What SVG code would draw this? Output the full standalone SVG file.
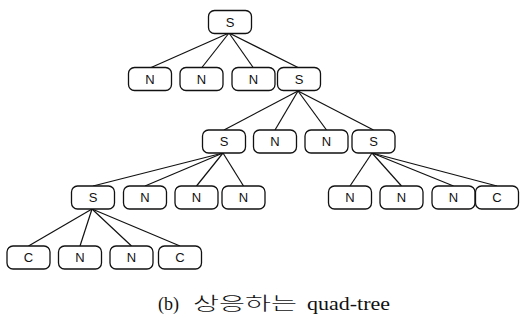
<svg xmlns="http://www.w3.org/2000/svg" width="520" height="329" viewBox="0 0 520 329">
  <style>
    .node text { font-family: "Liberation Sans", Arial, sans-serif; font-size: 13px; fill: #111; text-anchor: middle; dominant-baseline: central; }
    #edges line { stroke: #111; stroke-width: 1.2; }
    .caption { font-family: "Liberation Serif", "Noto Sans CJK KR", serif; font-size: 17px; fill: #111; }
  </style>
  <defs>
    <rect id="box" x="-21.5" y="-11.5" width="43" height="23" rx="6" ry="6" fill="#fff" stroke="#111" stroke-width="1.3"/>
  </defs>
  <rect width="520" height="329" fill="#fff"/>

  <!-- tree edges: parent bottom centre to child top centre -->
  <g id="edges">
    <line x1="229" y1="33" x2="150" y2="68"/>
    <line x1="229" y1="33" x2="201.5" y2="68"/>
    <line x1="229" y1="33" x2="253.5" y2="68"/>
    <line x1="229" y1="33" x2="299" y2="68"/>

    <line x1="298" y1="91" x2="224" y2="130"/>
    <line x1="298" y1="91" x2="275" y2="130"/>
    <line x1="298" y1="91" x2="326.5" y2="130"/>
    <line x1="298" y1="91" x2="373.5" y2="130"/>

    <line x1="223" y1="153" x2="93" y2="186"/>
    <line x1="223" y1="153" x2="145" y2="186"/>
    <line x1="223" y1="153" x2="196.5" y2="186"/>
    <line x1="223" y1="153" x2="243.5" y2="186"/>

    <line x1="372" y1="153" x2="350" y2="186"/>
    <line x1="372" y1="153" x2="401.5" y2="186"/>
    <line x1="372" y1="153" x2="453.5" y2="186"/>
    <line x1="372" y1="153" x2="497" y2="186"/>

    <line x1="92" y1="209" x2="28.5" y2="246"/>
    <line x1="92" y1="209" x2="80" y2="246"/>
    <line x1="92" y1="209" x2="131.5" y2="246"/>
    <line x1="92" y1="209" x2="180" y2="246"/>
  </g>

  <!-- root -->
  <g id="n0" class="node" transform="translate(230,22)"><use href="#box"/><text>S</text></g>

  <!-- level 1 -->
  <g id="n1" class="node" transform="translate(150,79)"><use href="#box"/><text>N</text></g>
  <g id="n2" class="node" transform="translate(201.5,79)"><use href="#box"/><text>N</text></g>
  <g id="n3" class="node" transform="translate(253.5,79)"><use href="#box"/><text>N</text></g>
  <g id="n4" class="node" transform="translate(299,79)"><use href="#box"/><text>S</text></g>

  <!-- level 2 -->
  <g id="n5" class="node" transform="translate(224,141.5)"><use href="#box"/><text>S</text></g>
  <g id="n6" class="node" transform="translate(275,141.5)"><use href="#box"/><text>N</text></g>
  <g id="n7" class="node" transform="translate(326.5,141.5)"><use href="#box"/><text>N</text></g>
  <g id="n8" class="node" transform="translate(373.5,141.5)"><use href="#box"/><text>S</text></g>

  <!-- level 3 -->
  <g id="n9" class="node" transform="translate(93,197.5)"><use href="#box"/><text>S</text></g>
  <g id="n10" class="node" transform="translate(145,197.5)"><use href="#box"/><text>N</text></g>
  <g id="n11" class="node" transform="translate(196.5,197.5)"><use href="#box"/><text>N</text></g>
  <g id="n12" class="node" transform="translate(243.5,197.5)"><use href="#box"/><text>N</text></g>
  <g id="n13" class="node" transform="translate(350,197.5)"><use href="#box"/><text>N</text></g>
  <g id="n14" class="node" transform="translate(401.5,197.5)"><use href="#box"/><text>N</text></g>
  <g id="n15" class="node" transform="translate(453.5,197.5)"><use href="#box"/><text>N</text></g>
  <g id="n16" class="node" transform="translate(497,197.5)"><use href="#box"/><text>C</text></g>

  <!-- level 4 -->
  <g id="n17" class="node" transform="translate(28.5,257.5)"><use href="#box"/><text>C</text></g>
  <g id="n18" class="node" transform="translate(80,257.5)"><use href="#box"/><text>N</text></g>
  <g id="n19" class="node" transform="translate(131.5,257.5)"><use href="#box"/><text>N</text></g>
  <g id="n20" class="node" transform="translate(180,257.5)"><use href="#box"/><text>C</text></g>

  <text class="caption" y="310"><tspan x="158" font-size="18">(b)</tspan><tspan x="193" font-size="18" font-weight="300" textLength="104" lengthAdjust="spacingAndGlyphs">상응하는</tspan><tspan x="307" font-size="18" textLength="83" lengthAdjust="spacingAndGlyphs">quad-tree</tspan></text>
</svg>
